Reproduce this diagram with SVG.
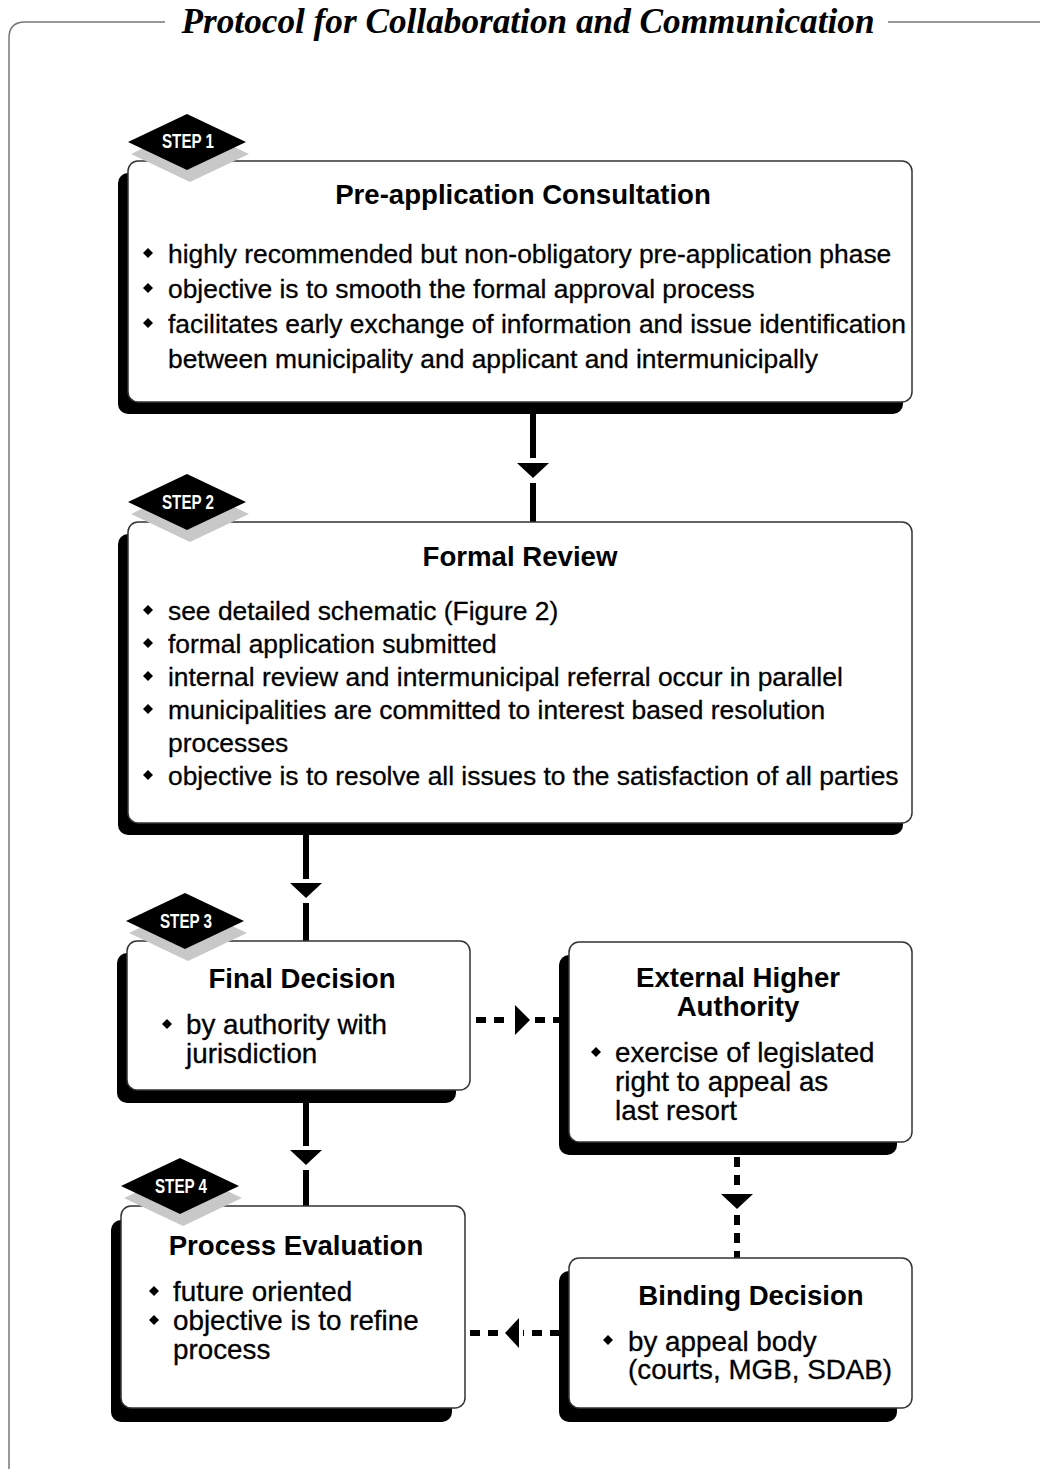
<svg xmlns="http://www.w3.org/2000/svg" width="1040" height="1469" viewBox="0 0 1040 1469">
<defs>
<style>
.frame{fill:none;stroke:#777;stroke-width:1.5}
.box{fill:#fff;stroke:#333;stroke-width:1.5}
.shadow{fill:#000}
.title{font-family:"Liberation Sans",Arial,sans-serif;font-weight:bold;font-size:27.6px;fill:#000}
.txt{font-family:"Liberation Sans",Arial,sans-serif;font-size:26.4px;fill:#000;stroke:#000;stroke-width:0.3}
.txs{font-family:"Liberation Sans",Arial,sans-serif;font-size:27.8px;fill:#000;stroke:#000;stroke-width:0.3}
.step{font-family:"Liberation Sans",Arial,sans-serif;font-weight:bold;font-size:20px;fill:#fff}
.sline{stroke:#000;stroke-width:6;fill:none}
.dline{stroke:#000;stroke-width:6;fill:none;stroke-dasharray:10 8}
.head{fill:#000}
.stepshadow{fill:#c8c8c8}
</style>
<path id="bul" d="M0,-5 L5,0 L0,5 L-5,0 Z" fill="#000"/>
</defs>
<rect width="1040" height="1469" fill="#fff"/>

<g id="frame">
<path class="frame" d="M165,22 L25,22 Q9,22 9,38 L9,1469"/>
<path class="frame" d="M888,22 L1040,22"/>
<text x="528" y="33" text-anchor="middle" font-family="Liberation Serif,'Times New Roman',serif" font-weight="bold" font-style="italic" font-size="36" textLength="693" lengthAdjust="spacingAndGlyphs">Protocol for Collaboration and Communication</text>
</g>

<g id="connectors">
<line class="sline" x1="533" y1="414" x2="533" y2="458"/>
<path class="head" d="M517,463 L549,463 L533,478 Z"/>
<line class="sline" x1="533" y1="483" x2="533" y2="523"/>

<line class="sline" x1="306" y1="834" x2="306" y2="879"/>
<path class="head" d="M290,883 L322,883 L306,898 Z"/>
<line class="sline" x1="306" y1="903" x2="306" y2="942"/>

<line class="sline" x1="306" y1="1102" x2="306" y2="1146"/>
<path class="head" d="M290,1150 L322,1150 L306,1165 Z"/>
<line class="sline" x1="306" y1="1170" x2="306" y2="1207"/>

<path class="dline" d="M476,1020 L512,1020"/>
<path class="head" d="M515,1005 L530,1020 L515,1035 Z"/>
<path class="dline" d="M535,1020 L560,1020"/>

<path class="dline" d="M737,1157 L737,1190"/>
<path class="head" d="M721,1194 L753,1194 L737,1209 Z"/>
<path class="dline" d="M737,1215 L737,1258"/>

<path class="dline" d="M560,1333 L523,1333" stroke-dasharray="8 7"/>
<path class="head" d="M519,1318 L505,1333 L519,1348 Z"/>
<path class="dline" d="M498,1333 L465,1333" stroke-dasharray="7 8"/>
</g>

<g id="step1-box">
<rect class="shadow" x="118" y="173" width="785" height="241" rx="10"/>
<rect class="box" x="128" y="161" width="784" height="241" rx="10"/>
<text class="title" x="523" y="204" text-anchor="middle">Pre-application Consultation</text>
<use href="#bul" x="148" y="253"/>
<use href="#bul" x="148" y="288"/>
<use href="#bul" x="148" y="323"/>
<text class="txt" x="168" y="263">highly recommended but non-obligatory pre-application phase</text>
<text class="txt" x="168" y="298">objective is to smooth the formal approval process</text>
<text class="txt" x="168" y="333">facilitates early exchange of information and issue identification</text>
<text class="txt" x="168" y="368">between municipality and applicant and intermunicipally</text>
</g>

<g id="step2-box">
<rect class="shadow" x="118" y="534" width="785" height="301" rx="10"/>
<rect class="box" x="128" y="522" width="784" height="301" rx="10"/>
<text class="title" x="520" y="566" text-anchor="middle">Formal Review</text>
<use href="#bul" x="148" y="610"/>
<use href="#bul" x="148" y="643"/>
<use href="#bul" x="148" y="676"/>
<use href="#bul" x="148" y="709"/>
<use href="#bul" x="148" y="775"/>
<text class="txt" x="168" y="620">see detailed schematic (Figure 2)</text>
<text class="txt" x="168" y="653">formal application submitted</text>
<text class="txt" x="168" y="686">internal review and intermunicipal referral occur in parallel</text>
<text class="txt" x="168" y="719">municipalities are committed to interest based resolution</text>
<text class="txt" x="168" y="752">processes</text>
<text class="txt" x="168" y="785">objective is to resolve all issues to the satisfaction of all parties</text>
</g>

<g id="step3-box">
<rect class="shadow" x="117" y="953" width="339" height="150" rx="10"/>
<rect class="box" x="127" y="941" width="343" height="149" rx="10"/>
<text class="title" x="302" y="988" text-anchor="middle">Final Decision</text>
<use href="#bul" x="167" y="1024"/>
<text class="txs" x="186" y="1034">by authority with</text>
<text class="txs" x="186" y="1063">jurisdiction</text>
</g>

<g id="external-box">
<rect class="shadow" x="559" y="955" width="338" height="200" rx="10"/>
<rect class="box" x="569" y="942" width="343" height="200" rx="10"/>
<text class="title" x="738" y="987" text-anchor="middle">External Higher</text>
<text class="title" x="738" y="1016" text-anchor="middle">Authority</text>
<use href="#bul" x="596" y="1052"/>
<text class="txs" x="615" y="1062">exercise of legislated</text>
<text class="txs" x="615" y="1091">right to appeal as</text>
<text class="txs" x="615" y="1120">last resort</text>
</g>

<g id="step4-box">
<rect class="shadow" x="111" y="1220" width="341" height="202" rx="10"/>
<rect class="box" x="121" y="1206" width="344" height="202" rx="10"/>
<text class="title" x="296" y="1255" text-anchor="middle">Process Evaluation</text>
<use href="#bul" x="154" y="1291"/>
<use href="#bul" x="154" y="1320"/>
<text class="txs" x="173" y="1301">future oriented</text>
<text class="txs" x="173" y="1330">objective is to refine</text>
<text class="txs" x="173" y="1359">process</text>
</g>

<g id="binding-box">
<rect class="shadow" x="559" y="1271" width="338" height="151" rx="10"/>
<rect class="box" x="569" y="1258" width="343" height="150" rx="10"/>
<text class="title" x="751" y="1305" text-anchor="middle">Binding Decision</text>
<use href="#bul" x="608" y="1340"/>
<text class="txs" x="628" y="1351">by appeal body</text>
<text class="txs" x="628" y="1379">(courts, MGB, SDAB)</text>
</g>

<g id="step1-tag">
<path class="stepshadow" d="M190,126 L249,154 L190,182 L131,154 Z"/>
<path d="M187,114 L246,142 L187,170 L128,142 Z" fill="#000"/>
<text class="step" x="188" y="148" text-anchor="middle" textLength="52" lengthAdjust="spacingAndGlyphs">STEP 1</text>
</g>
<g id="step2-tag">
<path class="stepshadow" d="M190,486 L249,514 L190,542 L131,514 Z"/>
<path d="M187,474 L246,502 L187,530 L128,502 Z" fill="#000"/>
<text class="step" x="188" y="509" text-anchor="middle" textLength="52" lengthAdjust="spacingAndGlyphs">STEP 2</text>
</g>
<g id="step3-tag">
<path class="stepshadow" d="M188,905 L247,933 L188,961 L129,933 Z"/>
<path d="M185,893 L244,921 L185,949 L126,921 Z" fill="#000"/>
<text class="step" x="186" y="928" text-anchor="middle" textLength="52" lengthAdjust="spacingAndGlyphs">STEP 3</text>
</g>
<g id="step4-tag">
<path class="stepshadow" d="M183,1170 L242,1198 L183,1226 L124,1198 Z"/>
<path d="M180,1158 L239,1186 L180,1214 L121,1186 Z" fill="#000"/>
<text class="step" x="181" y="1193" text-anchor="middle" textLength="52" lengthAdjust="spacingAndGlyphs">STEP 4</text>
</g>
</svg>
